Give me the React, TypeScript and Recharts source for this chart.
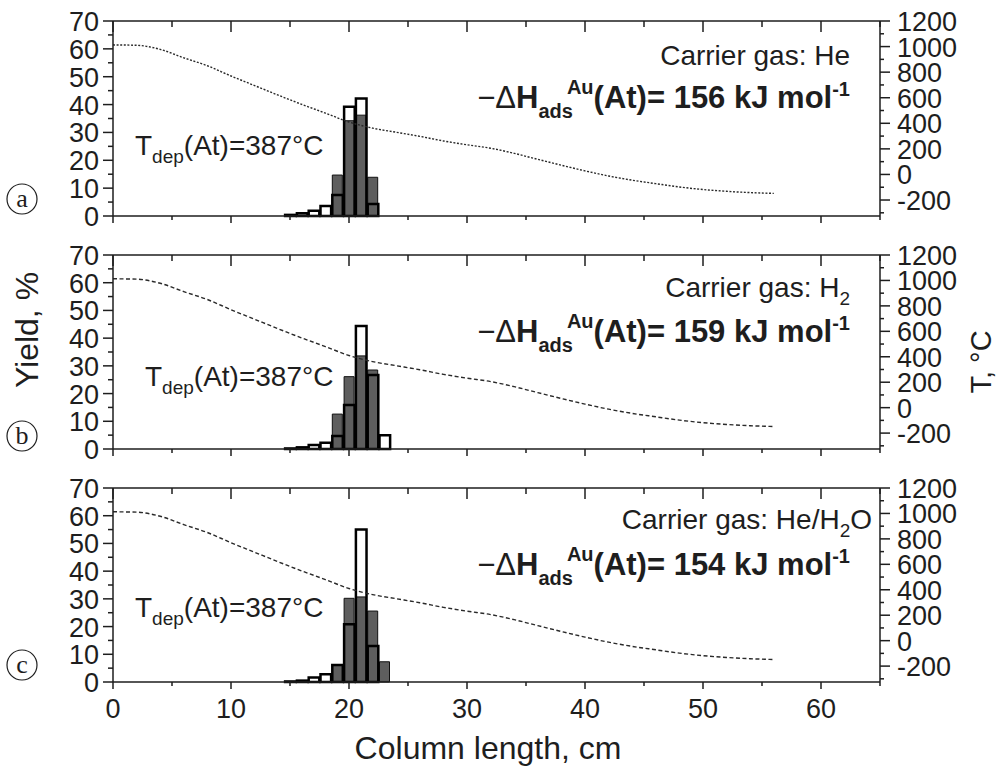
import React from "react";
import { ComposedChart, Bar, Line, XAxis, YAxis } from "recharts";

// temperature profile along the column (°C), same for all three runs
const tempX = [0, 2, 4, 6, 8, 10, 12, 14, 16, 18, 20, 22, 24, 26, 28, 30, 32, 34, 36, 38, 40, 42, 44, 46, 48, 50, 52, 54, 56];
const tempC = [1013, 1010, 978, 912, 850, 770, 695, 620, 548, 480, 410, 362, 330, 298, 262, 232, 205, 165, 118, 72, 28, -12, -45, -72, -98, -118, -132, -142, -148];

// histogram bins (cm)
const bins = [14, 15, 16, 17, 18, 19, 20, 21, 22, 23, 24];
// a: He
const greyA = [0, 0, 0, 0, 0, 14.7, 34.2, 36.2, 13.9, 0, 0];
const openA = [0, 0.4, 1, 1.9, 3.6, 7.5, 39.2, 42.2, 4.3, 0, 0];
// b: H2
const greyB = [0, 0, 0, 0, 0, 12.6, 26.1, 33.6, 28.5, 0, 0];
const openB = [0, 0.2, 0.6, 1.4, 2.3, 4.7, 15.9, 44.4, 26.7, 5, 0];
// c: He/H2O
const greyC = [0, 0, 0, 0, 0, 6.1, 30.2, 30.7, 25.6, 7.3, 0];
const openC = [0, 0.2, 0.5, 1.6, 2.8, 6.1, 20.8, 55, 13, 0, 0];

const xTicks = [0, 5, 10, 15, 20, 25, 30, 35, 40, 45, 50, 55, 60, 65];
const yieldTicks = [0, 5, 10, 15, 20, 25, 30, 35, 40, 45, 50, 55, 60, 65, 70];
const tempTicks = [-300, -200, -100, 0, 100, 200, 300, 400, 500, 600, 700, 800, 900, 1000, 1100, 1200];

const FONT = "'Liberation Sans', Arial, Helvetica, sans-serif";
const INK = "#1e1e1e";
const TICK_FS = 27;

function buildRows(grey: number[], open: number[]) {
  const xs = Array.from(new Set([...tempX, ...bins])).sort((a, b) => a - b);
  return xs.map((x) => {
    const ti = tempX.indexOf(x);
    const bi = bins.indexOf(x);
    return {
      x,
      temp: ti >= 0 ? tempC[ti] : null,
      grey: bi >= 0 && grey[bi] > 0 ? grey[bi] : null,
      open: bi >= 0 && open[bi] > 0 ? open[bi] : null,
    };
  });
}

const BottomTick = (props: any) => {
  const { x, y, payload, labels } = props;
  const major = payload.value % 10 === 0;
  return (
    <g>
      <line x1={x} x2={x} y1={y} y2={y + (major ? 7 : 4)} stroke={INK} strokeWidth={1.5} />
      {labels && major && (
        <text x={x} y={y + 36} textAnchor="middle" fontSize={TICK_FS} fontFamily={FONT} fill={INK}>
          {payload.value}
        </text>
      )}
    </g>
  );
};

const TopTick = (props: any) => {
  const { x, y, payload } = props;
  const major = payload.value % 10 === 0;
  return <line x1={x} x2={x} y1={y} y2={y + (major ? 11 : 6)} stroke={INK} strokeWidth={1.5} />;
};

const LeftTick = (props: any) => {
  const { x, y, payload } = props;
  const major = payload.value % 10 === 0;
  return (
    <g>
      <line x1={x - (major ? 10 : 5)} x2={x} y1={y} y2={y} stroke={INK} strokeWidth={1.5} />
      {major && (
        <text x={x - 14} y={y + 10} textAnchor="end" fontSize={TICK_FS} fontFamily={FONT} fill={INK}>
          {payload.value}
        </text>
      )}
    </g>
  );
};

const RightTick = (props: any) => {
  const { x, y, payload } = props;
  const major = payload.value % 200 === 0;
  return (
    <g>
      <line x1={x} x2={x + (major ? 10 : 4)} y1={y} y2={y} stroke={INK} strokeWidth={1.5} />
      {major && (
        <text x={x + 17} y={y + 10} textAnchor="start" fontSize={TICK_FS} fontFamily={FONT} fill={INK}>
          {payload.value}
        </text>
      )}
    </g>
  );
};

function Panel({ top, plotH, bottom, grey, open, dash, labels }: any) {
  const data = buildRows(grey, open);
  // axes take 1px each, margins compensate so the plot box lands on `top`
  return (
    <div style={{ position: "absolute", left: 0, top: top - 20 }}>
      <ComposedChart width={1003} height={20 + plotH + bottom} data={data} margin={{ top: 19, right: 43, bottom: bottom - 1, left: 53 }}>
        <XAxis xAxisId="b" dataKey="x" type="number" domain={[0, 65]} ticks={xTicks} height={1}
          tickSize={0} tickMargin={0} tickLine={false} axisLine={{ stroke: INK, strokeWidth: 1.5 }}
          tick={(p: any) => <BottomTick {...p} labels={labels} />} interval={0} />
        <XAxis xAxisId="t" dataKey="x" type="number" domain={[0, 65]} ticks={xTicks} orientation="top" height={1}
          tickSize={0} tickMargin={0} tickLine={false} axisLine={{ stroke: INK, strokeWidth: 1.5 }}
          tick={(p: any) => <TopTick {...p} />} interval={0} />
        <YAxis yAxisId="l" domain={[0, 70]} ticks={yieldTicks} width={60} tickSize={0} tickMargin={0} tickLine={false}
          axisLine={{ stroke: INK, strokeWidth: 1.5 }} tick={(p: any) => <LeftTick {...p} />} interval={0} />
        <YAxis yAxisId="r" orientation="right" domain={[-325, 1200]} ticks={tempTicks} width={80} tickSize={0} tickMargin={0}
          tickLine={false} axisLine={{ stroke: INK, strokeWidth: 1.5 }} tick={(p: any) => <RightTick {...p} />} interval={0} />
        <Line xAxisId="b" yAxisId="r" dataKey="temp" type="monotone" stroke="#2a2a2a" strokeWidth={1.4}
          strokeDasharray={dash} dot={false} connectNulls isAnimationActive={false} />
        <Bar xAxisId="b" yAxisId="l" dataKey="grey" barSize={10} fill="#5e5e5e" stroke="#111" strokeWidth={1} isAnimationActive={false} />
        <Bar xAxisId="t" yAxisId="l" dataKey="open" barSize={12} fill="none" stroke="#000" strokeWidth={2.5} isAnimationActive={false} />
      </ComposedChart>
    </div>
  );
}

const Dh = ({ y, value }: { y: number; value: string }) => (
  <text x={850} y={y} textAnchor="end" fontSize={31} fontWeight="bold" fontFamily={FONT} fill={INK}>
    <tspan fontWeight="normal">−Δ</tspan>H
    <tspan fontSize={20} dy={10}>ads</tspan>
    <tspan fontSize={20} dx={-6} dy={-24}>Au</tspan>
    <tspan dy={14}>(At)= {value} kJ mol</tspan>
    <tspan fontSize={20} dy={-12}>-1</tspan>
  </text>
);

const Tdep = ({ x, y }: { x: number; y: number }) => (
  <text x={x} y={y} fontSize={28} fontFamily={FONT} fill={INK}>
    T<tspan fontSize={19} dy={8}>dep</tspan>
    <tspan dy={-8}>(At)=387°C</tspan>
  </text>
);

const Tag = ({ y, letter }: { y: number; letter: string }) => (
  <g>
    <circle cx={22} cy={y} r={15} fill="none" stroke={INK} strokeWidth={1.2} />
    <text x={22} y={y + 8} textAnchor="middle" fontSize={26} fontFamily="'Liberation Serif', 'DejaVu Serif', serif" fill={INK}>
      {letter}
    </text>
  </g>
);

export default function App() {
  return (
    <div style={{ position: "absolute", left: 0, top: 0, width: 1003, height: 766, background: "#fff", overflow: "hidden" }}>
      <Panel top={21} plotH={195} bottom={16} grey={greyA} open={openA} dash="2 1.6" labels={false} />
      <Panel top={255} plotH={194} bottom={16} grey={greyB} open={openB} dash="4 2.5" labels={false} />
      <Panel top={488} plotH={194} bottom={84} grey={greyC} open={openC} dash="4 2.5" labels={true} />
      <svg width={1003} height={766} style={{ position: "absolute", left: 0, top: 0, pointerEvents: "none" }}>
        <text x={850} y={65} textAnchor="end" fontSize={28} fontFamily={FONT} fill={INK}>Carrier gas: He</text>
        <Dh y={108} value="156" />
        <Tdep x={135} y={155} />

        <text x={850} y={297} textAnchor="end" fontSize={28} fontFamily={FONT} fill={INK}>
          Carrier gas: H<tspan fontSize={19} dy={8}>2</tspan>
        </text>
        <Dh y={342} value="159" />
        <Tdep x={145} y={386} />

        <text x={872} y={529} textAnchor="end" fontSize={28} fontFamily={FONT} fill={INK}>
          Carrier gas: He/H<tspan fontSize={19} dy={8}>2</tspan><tspan dy={-8}>O</tspan>
        </text>
        <Dh y={575} value="154" />
        <Tdep x={135} y={617} />

        <Tag y={199} letter="a" />
        <Tag y={436} letter="b" />
        <Tag y={665} letter="c" />

        <text transform="translate(38,330) rotate(-90)" textAnchor="middle" fontSize={32} fontFamily={FONT} fill={INK}>Yield, %</text>
        <text transform="translate(991,362) rotate(-90)" textAnchor="middle" fontSize={29} fontFamily={FONT} fill={INK}>T, °C</text>
        <text x={488} y={759} textAnchor="middle" fontSize={32} fontFamily={FONT} fill={INK}>Column length, cm</text>
      </svg>
    </div>
  );
}
